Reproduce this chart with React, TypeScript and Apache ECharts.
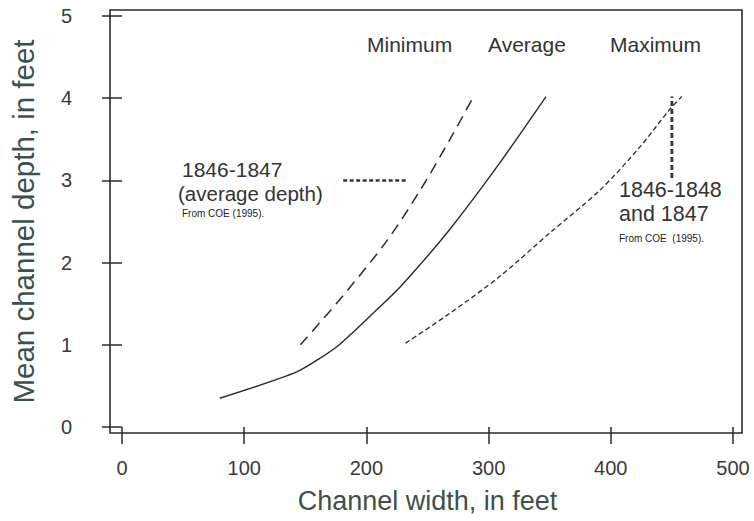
import React, { useEffect, useRef } from "react";
import * as echarts from "echarts";

// Channel width (ft) vs mean channel depth (ft)
const minimumCurve: [number, number][] = [
  [146, 1.0], [181, 1.6], [217, 2.27], [244, 2.88], [268, 3.49], [287, 4.0],
];
const averageCurve: [number, number][] = [
  [80, 0.35], [143, 0.67], [176, 0.98], [208, 1.42], [228, 1.71],
  [268, 2.4], [309, 3.21], [347, 4.02],
];
const maximumCurve: [number, number][] = [
  [232, 1.02], [268, 1.38], [309, 1.83], [350, 2.36], [391, 2.88],
  [424, 3.41], [448, 3.86], [458, 4.02],
];
const ref1846_1847: [number, number][] = [[181, 3.0], [234, 3.0]];
const ref1846_1848: [number, number][] = [[450, 3.03], [450, 4.02]];

const xTicks = { min: 0, max: 500, interval: 100 };
const yTicks = { min: 0, max: 5, interval: 1 };

const seriesLabels = ["Minimum", "Average", "Maximum"];
const noteLeft = ["1846-1847", "(average depth)", "From COE (1995)."];
const noteRight = ["1846-1848", "and 1847", "From COE  (1995)."];

const FONT = "'Liberation Sans', Arial, Helvetica, sans-serif";
const INK = "#2a2a2a";
const TITLE = "#3e504c";

export default function App() {
  const ref = useRef<HTMLDivElement>(null);
  useEffect(() => {
    if (!ref.current) return;
    const chart = echarts.init(ref.current, undefined, { renderer: "svg" });
    const txt = (x: number, y: number, text: string, size: number, color = "#333") => ({
      type: "text",
      x,
      y,
      silent: true,
      style: {
        text,
        fill: color,
        font: `${size}px ${FONT}`,
        verticalAlign: "middle",
        align: "left",
      },
    });
    chart.setOption({
      animation: false,
      backgroundColor: "#ffffff",
      grid: { left: 122, right: 21, top: 16, bottom: 94 },
      xAxis: {
        type: "value",
        ...xTicks,
        offset: 6,
        axisLine: { show: false },
        axisTick: { show: true, length: 17, lineStyle: { color: INK, width: 1.5 } },
        splitLine: { show: false },
        axisLabel: { margin: 25, fontSize: 20, lineHeight: 20, color: "#3a3a3a", fontFamily: FONT },
        name: "Channel width, in feet",
        nameLocation: "middle",
        nameGap: 54,
        nameTextStyle: { fontSize: 27, color: TITLE, fontFamily: FONT },
      },
      yAxis: {
        type: "value",
        ...yTicks,
        offset: 12,
        axisLine: { show: false },
        axisTick: { show: true, length: 20, lineStyle: { color: INK, width: 1.5 } },
        splitLine: { show: false },
        axisLabel: { margin: 38, fontSize: 20, color: "#3a3a3a", fontFamily: FONT },
        name: "Mean channel depth, in feet",
        nameLocation: "middle",
        nameGap: 72,
        nameTextStyle: { fontSize: 29.5, color: TITLE, fontFamily: FONT },
      },
      series: [
        {
          name: "Minimum",
          type: "line",
          data: minimumCurve,
          smooth: 0.3,
          symbol: "none",
          lineStyle: { color: INK, width: 1.5, type: [11, 7] },
        },
        {
          name: "Average",
          type: "line",
          data: averageCurve,
          smooth: 0.2,
          symbol: "none",
          lineStyle: { color: INK, width: 1.4, type: "solid" },
        },
        {
          name: "Maximum",
          type: "line",
          data: maximumCurve,
          smooth: 0.3,
          symbol: "none",
          lineStyle: { color: INK, width: 1.3, type: [5, 3] },
        },
        {
          name: "ref1",
          type: "line",
          data: ref1846_1847,
          symbol: "none",
          lineStyle: { color: "#333", width: 2.5, type: [4, 2.5] },
        },
        {
          name: "ref2",
          type: "line",
          data: ref1846_1848,
          symbol: "none",
          lineStyle: { color: "#333", width: 2.8, type: [5, 3] },
        },
      ],
      graphic: [
        {
          type: "rect",
          silent: true,
          shape: { x: 110, y: 10, width: 632, height: 423 },
          style: { fill: "none", stroke: INK, lineWidth: 1.6 },
        },
        txt(367, 44, seriesLabels[0], 21),
        txt(488, 44, seriesLabels[1], 21),
        txt(610, 44, seriesLabels[2], 21),
        txt(182, 169, noteLeft[0], 21),
        txt(178, 193, noteLeft[1], 20.5),
        txt(182, 213, noteLeft[2], 10, "#222"),
        txt(619, 190, noteRight[0], 21.5),
        txt(619, 214, noteRight[1], 21.5),
        txt(619, 238, noteRight[2], 10, "#222"),
      ],
    });
    return () => chart.dispose();
  }, []);
  return (
    <div
      ref={ref}
      style={{ position: "fixed", left: 0, top: 0, width: 754, height: 521, background: "#fff" }}
    />
  );
}
